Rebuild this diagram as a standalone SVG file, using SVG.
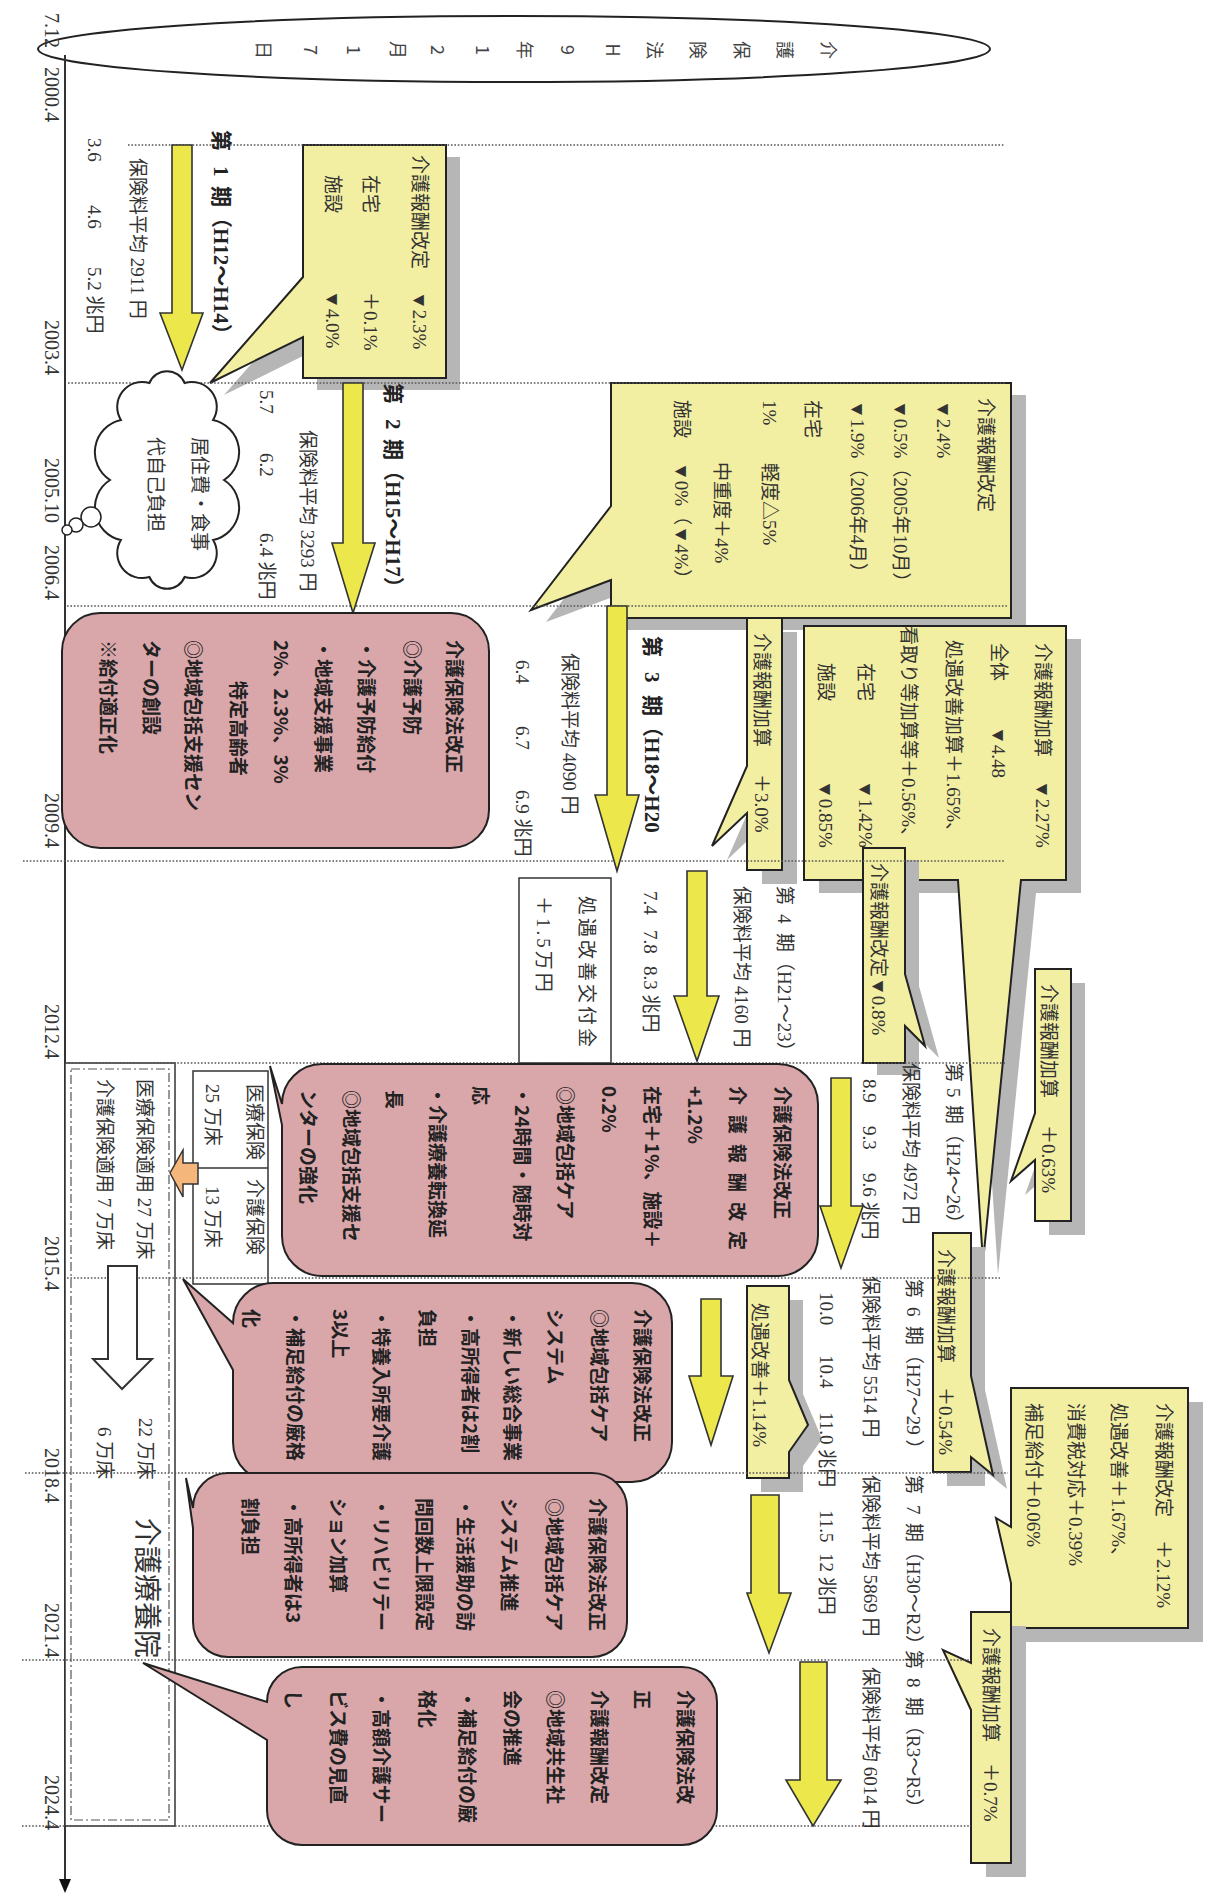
<svg xmlns="http://www.w3.org/2000/svg" width="1211" height="1893" viewBox="0 0 1211 1893">
<defs>
<style>
.sh{fill:#b6b6b6}
.yb{fill:#f3efa2;stroke:#222;stroke-width:2}
.pk{fill:#d9a7aa;stroke:#222;stroke-width:2}
.ar{fill:#ece84c;stroke:#333;stroke-width:1.6}
.dot{stroke:#555;stroke-width:1.6;stroke-dasharray:1.6 1.8;fill:none}
.frame{fill:#fff;stroke:#333;stroke-width:1.5}
text{font-family:"Liberation Serif","Noto Sans CJK JP",serif;fill:#333;font-size:19px}
.d{font-size:20px}
.h{font-size:21px;font-weight:bold;fill:#222}
.big{font-size:28px}
.p{font-family:"Noto Sans CJK JP",sans-serif;font-weight:700;font-size:19px;fill:#222}
.e{font-family:"Noto Sans CJK JP",sans-serif;font-size:18px;fill:#444;text-anchor:middle}
</style>
<path id="cA" d="M303,145 H446 V378 H303 V337 L210,383 L303,277 Z"/>
<path id="cB" d="M611,383 H1011 V618 H611 V580 L531,610 L611,506 Z"/>
<path id="cC" d="M747,618 H782 V870 H747 V813 L712,846 L747,766 Z"/>
<path id="cD" d="M804,626 H1066 V880 H1021 L983,1262 L958,880 H804 Z"/>
<path id="cE" d="M863,848 H905 V974 L925,1046 L905,1026 V1063 H863 Z"/>
<path id="cF" d="M1035,969 H1071 V1221 H1035 V1160 L1011,1181 L1035,1113 Z"/>
<path id="cG" d="M933,1233 H971 V1376 L993,1475 L971,1457 V1472 H933 Z"/>
<path id="cH" d="M747,1286 H789 V1380 L808,1425 L789,1452 V1478 H747 Z"/>
<path id="cI" d="M1011,1388 H1188 V1628 H1011 V1583 L996,1518 L1011,1527 Z"/>
<path id="cJ" d="M971,1612 H1011 V1863 H971 V1710 L943,1650 L971,1663 Z"/>
</defs>
<rect width="1211" height="1893" fill="#fff"/>

<g id="law1997">
<ellipse cx="514" cy="49" rx="476" ry="33" fill="#fff" stroke="#222" stroke-width="2"/>
<g transform="matrix(0 1 -1 0 1211 0)">
<text class="e" x="50" y="389">介</text><text class="e" x="50" y="433">護</text><text class="e" x="50" y="476">保</text><text class="e" x="50" y="520">険</text><text class="e" x="50" y="563">法</text><text class="e" x="50" y="605">H</text><text class="e" x="50" y="650">9</text><text class="e" x="50" y="693">年</text><text class="e" x="50" y="735">1</text><text class="e" x="50" y="780">2</text><text class="e" x="50" y="820">月</text><text class="e" x="50" y="864">1</text><text class="e" x="50" y="907">7</text><text class="e" x="50" y="954">日</text>
</g>
</g>

<g id="axis">
<line x1="65" y1="55" x2="65" y2="1880" stroke="#333" stroke-width="2"/>
<polygon points="59,1879 71,1879 65,1893" fill="#111"/>
<g transform="matrix(0 1 -1 0 1211 0)">
<text class="d" x="13" y="1166">7.12</text>
<text class="d" x="67" y="1166">2000.4</text>
<text class="d" x="320" y="1166">2003.4</text>
<text class="d" x="458" y="1166">2005.10</text>
<text class="d" x="545" y="1166">2006.4</text>
<text class="d" x="793" y="1166">2009.4</text>
<text class="d" x="1004" y="1166">2012.4</text>
<text class="d" x="1236" y="1166">2015.4</text>
<text class="d" x="1448" y="1166">2018.4</text>
<text class="d" x="1603" y="1166">2021.4</text>
<text class="d" x="1775" y="1166">2024.4</text>
</g>
</g>

<g id="rev2000">
<use href="#cA" class="sh" transform="translate(14 12)"/>
<use href="#cA" class="yb"/>
<g transform="matrix(0 1 -1 0 1211 0)">
<text x="155" y="798">介護報酬改定</text><text x="291" y="798">▼2.3%</text>
<text x="175" y="847">在宅</text><text x="292" y="847">＋0.1%</text>
<text x="175" y="885">施設</text><text x="290" y="885">▼4.0%</text>
</g>
</g>

<g id="rev2003">
<use href="#cB" class="sh" transform="translate(15 12)"/>
<use href="#cB" class="yb"/>
<g transform="matrix(0 1 -1 0 1211 0)">
<text x="398" y="232">介護報酬改定</text>
<text x="400" y="274">▼2.4%</text>
<text x="400" y="317">▼0.5%（2005年10月）</text>
<text x="400" y="360">▼1.9%（2006年4月）</text>
<text x="400" y="405">在宅</text>
<text x="400" y="448">1%</text><text x="463" y="448">軽度△5%</text>
<text x="462" y="496">中重度＋4%</text>
<text x="400" y="536">施設</text><text x="462" y="536">▼0%（▼4%）</text>
</g>
</g>

<g id="add2006">
<use href="#cC" class="sh" transform="translate(15 14)"/>
<use href="#cC" class="yb"/>
<g transform="matrix(0 1 -1 0 1211 0)">
<text x="633" y="456">介護報酬加算</text><text x="774" y="456">＋3.0%</text>
</g>
</g>

<g id="add2009">
<use href="#cD" class="sh" transform="translate(15 13)"/>
<use href="#cD" class="yb"/>
<g transform="matrix(0 1 -1 0 1211 0)">
<text x="643" y="175">介護報酬加算</text><text x="780" y="175">▼2.27%</text>
<text x="643" y="219">全体</text><text x="726" y="219">▼4.48</text>
<text x="640" y="264">処遇改善加算＋1.65%、</text>
<text x="626" y="309">看取り等加算等＋0.56%、</text>
<text x="663" y="352">在宅</text><text x="780" y="352">▼1.42%</text>
<text x="663" y="392">施設</text><text x="780" y="392">▼0.85%</text>
</g>
</g>

<g id="rev2009">
<use href="#cE" class="sh" transform="translate(14 12)"/>
<use href="#cE" class="yb"/>
<g transform="matrix(0 1 -1 0 1211 0)">
<text x="863" y="339">介護報酬改定▼0.8%</text>
</g>
</g>

<g id="add2012">
<use href="#cF" class="sh" transform="translate(14 14)"/>
<use href="#cF" class="yb"/>
<g transform="matrix(0 1 -1 0 1211 0)">
<text x="984" y="169">介護報酬加算</text><text x="1125" y="169">＋0.63%</text>
</g>
</g>

<g id="add2015">
<use href="#cG" class="sh" transform="translate(14 14)"/>
<use href="#cG" class="yb"/>
<g transform="matrix(0 1 -1 0 1211 0)">
<text x="1249" y="272">介護報酬加算</text><text x="1387" y="272">＋0.54%</text>
</g>
</g>

<g id="shogu2015">
<use href="#cH" class="sh" transform="translate(14 14)"/>
<use href="#cH" class="yb"/>
<g transform="matrix(0 1 -1 0 1211 0)">
<text x="1303" y="458">処遇改善＋1.14%</text>
</g>
</g>

<g id="rev2018">
<use href="#cI" class="sh" transform="translate(15 14)"/>
<use href="#cI" class="yb"/>
<g transform="matrix(0 1 -1 0 1211 0)">
<text x="1403" y="54">介護報酬改定</text><text x="1540" y="54">＋2.12%</text>
<text x="1403" y="99">処遇改善＋1.67%、</text>
<text x="1403" y="142">消費税対応＋0.39%</text>
<text x="1403" y="184">補足給付＋0.06%</text>
</g>
</g>

<g id="add2021">
<use href="#cJ" class="sh" transform="translate(15 14)"/>
<use href="#cJ" class="yb"/>
<g transform="matrix(0 1 -1 0 1211 0)">
<text x="1628" y="227">介護報酬加算</text><text x="1763" y="227">＋0.7%</text>
</g>
</g>

<g id="ryoyo">
<rect x="65" y="1063" width="110" height="763" fill="#fff" stroke="#333" stroke-width="1.5"/>
<rect x="71" y="1069" width="98" height="751" fill="none" stroke="#555" stroke-width="1.2" stroke-dasharray="9 3 2 3"/>
<g transform="matrix(0 1 -1 0 1211 0)">
<text x="1079" y="1073">医療保険適用 27 万床</text>
<text x="1079" y="1113">介護保険適用 7 万床</text>
<text x="1418" y="1072">22 万床</text>
<text x="1427" y="1113">6 万床</text>
<text class="big" x="1518" y="1074">介護療養院</text>
</g>
</g>

<g id="beds">
<rect class="frame" x="193" y="1071" width="75" height="213"/>
<line x1="193" y1="1168" x2="268" y2="1168" stroke="#333" stroke-width="1.5"/>
<g transform="matrix(0 1 -1 0 1211 0)">
<text x="1084" y="963">医療保険</text><text x="1084" y="1005">25 万床</text>
<text x="1179" y="963">介護保険</text><text x="1186" y="1005">13 万床</text>
</g>
</g>

<g id="kofukin">
<rect class="frame" x="519" y="878" width="92" height="185"/>
<g transform="matrix(0 1 -1 0 1211 0)">
<text x="896" y="631" letter-spacing="3">処遇改善交付金</text>
<text x="896" y="674" letter-spacing="3">＋1.5万円</text>
</g>
</g>

<g id="gridlines">
<line class="dot" x1="128" y1="145" x2="1005" y2="145"/>
<line class="dot" x1="68" y1="383" x2="1005" y2="383"/>
<line class="dot" x1="67" y1="606" x2="1008" y2="606"/>
<line class="dot" x1="23" y1="861" x2="1005" y2="861"/>
<line class="dot" x1="65" y1="1063" x2="1005" y2="1063"/>
<line class="dot" x1="67" y1="1278" x2="1000" y2="1278"/>
<line class="dot" x1="25" y1="1473" x2="1008" y2="1473"/>
<line class="dot" x1="22" y1="1660" x2="971" y2="1660"/>
<line class="dot" x1="22" y1="1826" x2="971" y2="1826"/>
</g>

<g id="connectors">
<polygon class="ar" points="172,145 192,145 192,313 203,313 182,370 160,313 172,313"/>
<polygon class="ar" points="343,383 363,383 363,543 375,543 353,613 332,543 343,543"/>
<polygon class="ar" points="607,606 627,606 627,795 639,795 617,871 595,795 607,795"/>
<polygon class="ar" points="687,871 707,871 707,996 719,996 697,1061 674,996 687,996"/>
<polygon class="ar" points="831,1078 851,1078 851,1206 863,1206 841,1268 820,1206 831,1206"/>
<polygon class="ar" points="701,1299 721,1299 721,1376 733,1376 711,1445 689,1376 701,1376"/>
<polygon class="ar" points="751,1495 779,1495 779,1593 791,1593 769,1653 747,1593 751,1593"/>
<polygon class="ar" points="800,1662 827,1662 827,1780 841,1780 813,1826 786,1780 800,1780"/>
<polygon points="198,1163 183,1163 183,1150 170,1173 183,1197 183,1184 198,1184" fill="#f4b67a" stroke="#333" stroke-width="1.5"/>
<polygon points="108,1266 137,1266 137,1359 152,1359 122,1389 93,1359 108,1359" fill="#fff" stroke="#333" stroke-width="2"/>
</g>

<g id="law2005">
<rect class="pk" x="62" y="613" width="427" height="235" rx="38"/>
<g transform="matrix(0 1 -1 0 1211 0)">
<text class="p" x="640" y="764">介護保険法改正</text>
<text class="p" x="640" y="806">◎介護予防</text>
<text class="p" x="640" y="852">・介護予防給付</text>
<text class="p" x="640" y="895">・地域支援事業</text>
<text class="p" x="640" y="937">2%、2.3%、3%</text>
<text class="p" x="681" y="980">特定高齢者</text>
<text class="p" x="640" y="1025">◎地域包括支援セン</text>
<text class="p" x="640" y="1067">ターの創設</text>
<text class="p" x="640" y="1110">※給付適正化</text>
</g>
</g>

<g id="law2011">
<path class="pk" d="M322,1064 H778 A40,40 0 0 1 818,1104 V1236 A40,40 0 0 1 778,1276 H322 A40,40 0 0 1 282,1236 V1125 L270,1066 L282,1104 A40,40 0 0 1 322,1064 Z"/>
<g transform="matrix(0 1 -1 0 1211 0)">
<text class="p" x="1086" y="436">介護保険法改正</text>
<text class="p" x="1086" y="481" letter-spacing="10">介護報酬改定</text>
<text class="p" x="1086" y="523">+1.2%</text>
<text class="p" x="1086" y="566">在宅＋1%、施設＋</text>
<text class="p" x="1086" y="609">0.2%</text>
<text class="p" x="1086" y="653">◎地域包括ケア</text>
<text class="p" x="1086" y="696">・24時間・随時対</text>
<text class="p" x="1086" y="738">応</text>
<text class="p" x="1086" y="781">・介護療養転換延</text>
<text class="p" x="1090" y="824">長</text>
<text class="p" x="1090" y="867">◎地域包括支援セ</text>
<text class="p" x="1090" y="910">ンターの強化</text>
</g>
</g>

<g id="law2014">
<path class="pk" d="M273,1283 H632 A40,40 0 0 1 672,1323 V1442 A40,40 0 0 1 632,1482 H273 A40,40 0 0 1 233,1442 V1370 L183,1279 L233,1323 A40,40 0 0 1 273,1283 Z"/>
<g transform="matrix(0 1 -1 0 1211 0)">
<text class="p" x="1309" y="576">介護保険法改正</text>
<text class="p" x="1309" y="619">◎地域包括ケア</text>
<text class="p" x="1309" y="663">システム</text>
<text class="p" x="1309" y="706">・新しい総合事業</text>
<text class="p" x="1309" y="748">・高所得者は2割</text>
<text class="p" x="1309" y="791">負担</text>
<text class="p" x="1309" y="837">・特養入所要介護</text>
<text class="p" x="1309" y="878">3以上</text>
<text class="p" x="1309" y="923">・補足給付の厳格</text>
<text class="p" x="1309" y="967">化</text>
</g>
</g>

<g id="law2017">
<path class="pk" d="M228,1473 H592 A35,35 0 0 1 627,1508 V1622 A35,35 0 0 1 592,1657 H228 A35,35 0 0 1 193,1622 V1528 L186,1478 L193,1508 A35,35 0 0 1 228,1473 Z"/>
<g transform="matrix(0 1 -1 0 1211 0)">
<text class="p" x="1498" y="621">介護保険法改正</text>
<text class="p" x="1498" y="664">◎地域包括ケア</text>
<text class="p" x="1498" y="709">システム推進</text>
<text class="p" x="1498" y="753">・生活援助の訪</text>
<text class="p" x="1498" y="794">問回数上限設定</text>
<text class="p" x="1498" y="837">・リハビリテー</text>
<text class="p" x="1498" y="880">ション加算</text>
<text class="p" x="1498" y="925">・高所得者は3</text>
<text class="p" x="1498" y="968">割負担</text>
</g>
</g>

<g id="law2020">
<path class="pk" d="M302,1667 H682 A35,35 0 0 1 717,1702 V1810 A35,35 0 0 1 682,1845 H302 A35,35 0 0 1 267,1810 V1740 L143,1663 L267,1702 A35,35 0 0 1 302,1667 Z"/>
<g transform="matrix(0 1 -1 0 1211 0)">
<text class="p" x="1690" y="533">介護保険法改</text>
<text class="p" x="1690" y="576">正</text>
<text class="p" x="1690" y="619">介護報酬改定</text>
<text class="p" x="1690" y="663">◎地域共生社</text>
<text class="p" x="1690" y="706">会の推進</text>
<text class="p" x="1690" y="751">・補足給付の厳</text>
<text class="p" x="1690" y="791">格化</text>
<text class="p" x="1690" y="837">・高額介護サー</text>
<text class="p" x="1690" y="880">ビス費の見直</text>
<text class="p" x="1690" y="925">し</text>
</g>
</g>

<g id="cloud">
<path d="M224,480 A33,33 0 0 1 213.1,540 A25,25 0 0 1 184.6,577 A19,19 0 0 1 149.4,577 A25,25 0 0 1 120.9,540 A33,33 0 0 1 110,480 A33,33 0 0 1 120.9,420 A25,25 0 0 1 149.4,383 A19,19 0 0 1 184.6,383 A25,25 0 0 1 213.1,420 A33,33 0 0 1 224,480 Z" fill="#fff" stroke="#222" stroke-width="2"/>
<circle cx="91" cy="517" r="10" fill="#fff" stroke="#222" stroke-width="1.5"/>
<circle cx="76" cy="525" r="7" fill="#fff" stroke="#222" stroke-width="1.5"/>
<circle cx="67" cy="530" r="5" fill="#fff" stroke="#222" stroke-width="1.5"/>
<g transform="matrix(0 1 -1 0 1211 0)">
<text x="437" y="1018">居住費・食事</text>
<text x="437" y="1062">代自己負担</text>
</g>
</g>

<g id="period1" transform="matrix(0 1 -1 0 1211 0)">
<text class="h" x="130" y="997">第<tspan x="166">1</tspan><tspan x="186">期（H12～H14）</tspan></text>
<text x="158" y="1080">保険料平均 2911 円</text>
<text x="138" y="1123">3.6</text><text x="205" y="1123">4.6</text><text x="267" y="1123">5.2 兆円</text>
</g>
<g id="period2" transform="matrix(0 1 -1 0 1211 0)">
<text class="h" x="383" y="825">第<tspan x="419">2</tspan><tspan x="439">期（H15～H17）</tspan></text>
<text x="430" y="910">保険料平均 3293 円</text>
<text x="390" y="951">5.7</text><text x="453" y="951">6.2</text><text x="533" y="951">6.4 兆円</text>
</g>
<g id="period3" transform="matrix(0 1 -1 0 1211 0)">
<text class="h" x="636" y="566">第<tspan x="672">3</tspan><tspan x="695">期（H18～H20</tspan></text>
<text x="653" y="648">保険料平均 4090 円</text>
<text x="660" y="695">6.4</text><text x="726" y="695">6.7</text><text x="790" y="695">6.9 兆円</text>
</g>
<g id="period4" transform="matrix(0 1 -1 0 1211 0)">
<text x="886" y="433">第<tspan x="914">4</tspan><tspan x="933">期（H21～23）</tspan></text>
<text x="886" y="476">保険料平均 4160 円</text>
<text x="891" y="567">7.4</text><text x="930" y="567">7.8</text><text x="966" y="567">8.3 兆円</text>
</g>
<g id="period5" transform="matrix(0 1 -1 0 1211 0)">
<text x="1063" y="264">第<tspan x="1088">5</tspan><tspan x="1105">期（H24～26）</tspan></text>
<text x="1063" y="307">保険料平均 4972 円</text>
<text x="1079" y="348">8.9</text><text x="1126" y="348">9.3</text><text x="1173" y="348">9.6 兆円</text>
</g>
<g id="period6" transform="matrix(0 1 -1 0 1211 0)">
<text x="1279" y="304">第<tspan x="1307">6</tspan><tspan x="1326">期（H27～29 ）</tspan></text>
<text x="1276" y="347">保険料平均 5514 円</text>
<text x="1292" y="391">10.0</text><text x="1355" y="391">10.4</text><text x="1412" y="391">11.0 兆円</text>
</g>
<g id="period7" transform="matrix(0 1 -1 0 1211 0)">
<text x="1475" y="304">第<tspan x="1505">7</tspan><tspan x="1523">期（H30～R2）</tspan></text>
<text x="1475" y="347">保険料平均 5869 円</text>
<text x="1510" y="391">11.5</text><text x="1553" y="391">12 兆円</text>
</g>
<g id="period8" transform="matrix(0 1 -1 0 1211 0)">
<text x="1650" y="304">第<tspan x="1678">8</tspan><tspan x="1697">期（R3～R5）</tspan></text>
<text x="1667" y="347">保険料平均 6014 円</text>
</g>
</svg>
